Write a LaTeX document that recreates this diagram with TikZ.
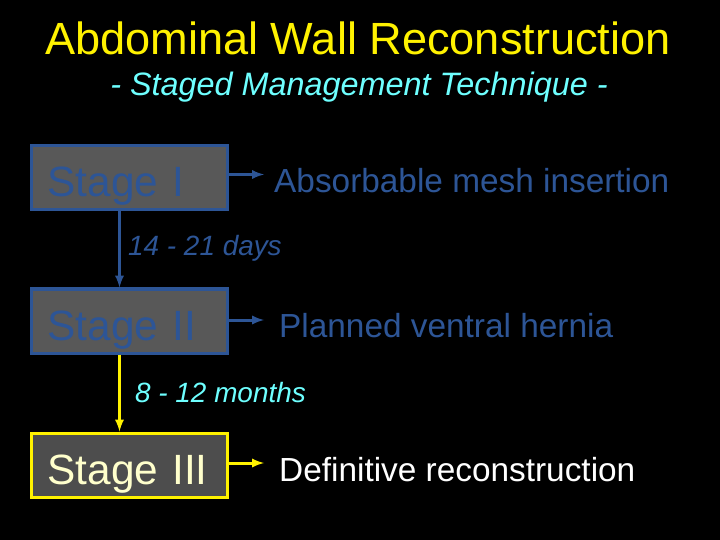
\documentclass[tikz,border=0pt]{standalone}
\usepackage{fontspec}
\setmainfont{Liberation Sans}
\usetikzlibrary{positioning}
\usetikzlibrary{arrows}

\definecolor{dimblue}{RGB}{45,85,150}
\definecolor{boxgray}{RGB}{88,88,88}
\definecolor{darkgray}{RGB}{77,77,77}
\definecolor{paleyellow}{RGB}{255,255,204}
\definecolor{lightcyan}{RGB}{110,255,255}

\begin{document}
\begin{tikzpicture}[x=1bp, y=-1bp,
stagebox/.style={draw, line width=3bp, minimum width=196bp, minimum height=64bp,
  text width=164bp, text height=41bp, text depth=3bp, align=left,
  font=\fontsize{42.5}{48}\selectfont},
item/.style={anchor=base west, inner sep=0pt, font=\fontsize{33.5}{38}\selectfont},
wait/.style={anchor=base west, inner sep=0pt, font=\fontsize{28}{32}\selectfont\itshape},
link/.style={line width=3bp, -latex}
]
\fill[black] (0,0) rectangle (720,540);
\useasboundingbox (0,0) rectangle (720,540);

% title
\node[anchor=base, text=yellow, font=\fontsize{45.3}{50}\selectfont] (title) at (358,55)
  {Abdominal Wall Reconstruction};
\node[anchor=base, text=lightcyan, font=\fontsize{32.5}{36}\selectfont\itshape] (sub) at (359,96)
  {- Staged Management Technique -};

% stages
\node[stagebox, fill=boxgray, draw=dimblue, text=dimblue] (s1) at (129.5,177.5) {Stage I};
\node[stagebox, fill=boxgray, draw=dimblue, text=dimblue] (s2) at (129.5,321) {Stage II};
\node[stagebox, fill=darkgray, draw=yellow, text=paleyellow] (s3) at (129.5,465) {Stage III};

% what happens
\node[item, text=dimblue] (t1) at (274,193) {Absorbable mesh insertion};
\node[item, text=dimblue] (t2) at (279,337) {Planned ventral hernia};
\node[item, text=white] (t3) at (279,481) {Definitive reconstruction};

\draw[link, dimblue] ([yshift=3bp]s1.east) -- ([xshift=-10bp,yshift=3bp]s1.east -| t1.west);
\draw[link, dimblue] ([yshift=1bp]s2.east) -- ([xshift=-15bp,yshift=1bp]s2.east -| t2.west);
\draw[link, yellow] ([yshift=2bp]s3.east) -- ([xshift=-15bp,yshift=2bp]s3.east -| t3.west);

% time between stages
\draw[link, dimblue] ([xshift=-10bp]s1.south) -- ([xshift=-10bp]s2.north);
\draw[link, yellow] ([xshift=-10bp]s2.south) -- ([xshift=-10bp]s3.north);
\node[wait, text=dimblue] (w1) at (128,256) {14 - 21 days};
\node[wait, text=lightcyan] (w2) at (135,402) {8 - 12 months};
\end{tikzpicture}
\end{document}
